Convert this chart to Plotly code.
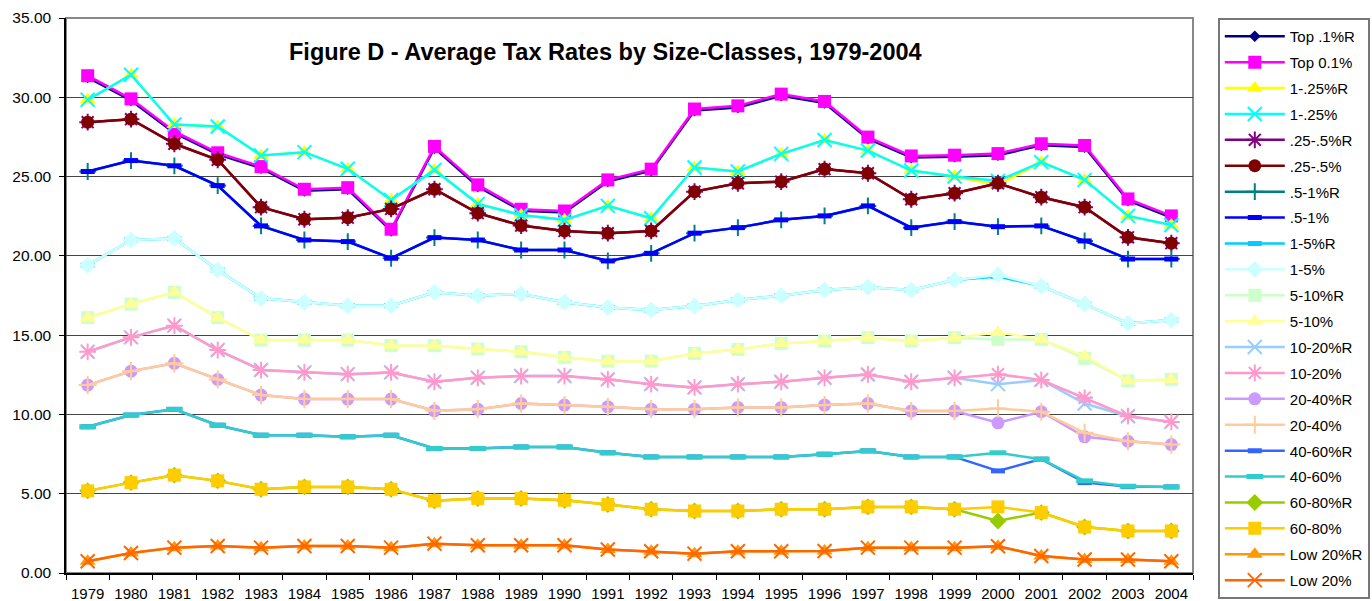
import plotly.graph_objects as go

years = [str(y) for y in range(1979, 2005)]

top01R = [31.26, 29.8, 27.75, 26.4, 25.53, 24.1, 24.2, 21.58, 26.8, 24.38, 22.84, 22.73, 24.69, 25.37, 29.16, 29.36, 30.1, 29.64, 27.39, 26.2, 26.25, 26.35, 26.97, 26.86, 23.49, 22.42]
top01 = [31.36, 29.9, 27.85, 26.5, 25.63, 24.2, 24.3, 21.68, 26.9, 24.48, 22.94, 22.83, 24.79, 25.47, 29.26, 29.46, 30.2, 29.74, 27.49, 26.3, 26.35, 26.45, 27.07, 26.96, 23.59, 22.52]
p1_25R = [29.84, 31.42, 28.28, 28.16, 26.33, 26.54, 25.49, 23.52, 25.42, 23.28, 22.58, 22.27, 23.15, 22.37, 25.57, 25.32, 26.43, 27.31, 26.64, 25.38, 25.0, 24.47, 25.91, 24.79, 22.52, 21.95]
p1_25 = [29.84, 31.42, 28.28, 28.16, 26.33, 26.54, 25.49, 23.52, 25.42, 23.28, 22.58, 22.27, 23.15, 22.37, 25.57, 25.32, 26.43, 27.31, 26.64, 25.38, 25.0, 24.73, 25.91, 24.79, 22.52, 21.95]
p25_5R = [28.43, 28.62, 27.07, 26.06, 23.07, 22.31, 22.41, 22.96, 24.2, 22.69, 21.91, 21.57, 21.43, 21.57, 24.05, 24.58, 24.68, 25.47, 25.21, 23.57, 23.95, 24.58, 23.7, 23.07, 21.17, 20.8]
p25_5 = [28.43, 28.62, 27.07, 26.06, 23.07, 22.31, 22.41, 22.96, 24.2, 22.69, 21.91, 21.57, 21.43, 21.57, 24.05, 24.58, 24.68, 25.47, 25.21, 23.57, 23.95, 24.58, 23.7, 23.07, 21.17, 20.8]
p5_1R = [25.32, 26.01, 25.68, 24.43, 21.89, 21.0, 20.9, 19.85, 21.15, 21.0, 20.37, 20.37, 19.68, 20.16, 21.43, 21.78, 22.27, 22.52, 23.15, 21.78, 22.16, 21.84, 21.89, 20.94, 19.8, 19.8]
p5_1 = [25.32, 26.01, 25.68, 24.43, 21.89, 21.0, 20.9, 19.85, 21.15, 21.0, 20.37, 20.37, 19.68, 20.16, 21.43, 21.78, 22.27, 22.52, 23.15, 21.78, 22.16, 21.84, 21.89, 20.94, 19.8, 19.8]
p1_5R = [19.41, 21.0, 21.1, 19.1, 17.32, 17.07, 16.86, 16.86, 17.7, 17.49, 17.6, 17.07, 16.75, 16.58, 16.84, 17.22, 17.49, 17.85, 18.02, 17.85, 18.48, 18.7, 18.1, 16.96, 15.74, 15.95]
p1_5 = [19.41, 21.0, 21.1, 19.1, 17.32, 17.07, 16.86, 16.86, 17.7, 17.49, 17.6, 17.07, 16.75, 16.58, 16.84, 17.22, 17.49, 17.85, 18.02, 17.85, 18.48, 18.8, 18.1, 16.96, 15.74, 15.95]
p5_10R = [16.1, 16.96, 17.7, 16.1, 14.69, 14.69, 14.69, 14.35, 14.33, 14.12, 13.95, 13.6, 13.36, 13.36, 13.85, 14.1, 14.48, 14.63, 14.84, 14.63, 14.84, 14.73, 14.73, 13.54, 12.12, 12.21]
p5_10 = [16.1, 16.96, 17.7, 16.1, 14.69, 14.69, 14.69, 14.35, 14.33, 14.12, 13.95, 13.6, 13.36, 13.36, 13.85, 14.1, 14.48, 14.63, 14.84, 14.63, 14.84, 15.18, 14.73, 13.68, 12.12, 12.21]
p10_20R = [13.95, 14.86, 15.6, 14.06, 12.8, 12.65, 12.54, 12.65, 12.06, 12.31, 12.42, 12.42, 12.21, 11.91, 11.7, 11.91, 12.06, 12.31, 12.52, 12.06, 12.31, 11.91, 12.17, 10.69, 9.89, 9.53]
p10_20 = [13.95, 14.86, 15.6, 14.06, 12.8, 12.65, 12.54, 12.65, 12.06, 12.31, 12.42, 12.42, 12.21, 11.91, 11.7, 11.91, 12.06, 12.31, 12.52, 12.06, 12.31, 12.54, 12.17, 11.05, 9.89, 9.53]
p20_40R = [11.85, 12.73, 13.22, 12.21, 11.22, 10.97, 10.97, 10.97, 10.23, 10.33, 10.69, 10.59, 10.48, 10.33, 10.33, 10.44, 10.44, 10.59, 10.69, 10.21, 10.21, 9.47, 10.17, 8.59, 8.31, 8.1]
p20_40 = [11.85, 12.73, 13.22, 12.21, 11.22, 10.97, 10.97, 10.97, 10.23, 10.33, 10.69, 10.59, 10.48, 10.33, 10.33, 10.44, 10.44, 10.59, 10.69, 10.21, 10.21, 10.38, 10.17, 8.84, 8.31, 8.1]
p40_60R = [9.22, 9.96, 10.32, 9.32, 8.69, 8.69, 8.59, 8.69, 7.85, 7.85, 7.95, 7.95, 7.58, 7.32, 7.32, 7.32, 7.32, 7.49, 7.7, 7.32, 7.32, 6.44, 7.18, 5.7, 5.45, 5.43]
p40_60 = [9.22, 9.96, 10.32, 9.32, 8.69, 8.69, 8.59, 8.69, 7.85, 7.85, 7.95, 7.95, 7.58, 7.32, 7.32, 7.32, 7.32, 7.49, 7.7, 7.32, 7.32, 7.58, 7.18, 5.81, 5.47, 5.43]
p60_80R = [5.18, 5.7, 6.17, 5.81, 5.28, 5.43, 5.43, 5.28, 4.55, 4.7, 4.7, 4.59, 4.32, 4.02, 3.91, 3.91, 4.02, 4.02, 4.17, 4.17, 4.02, 3.28, 3.81, 2.9, 2.65, 2.65]
p60_80 = [5.18, 5.7, 6.17, 5.81, 5.28, 5.43, 5.43, 5.28, 4.55, 4.7, 4.7, 4.59, 4.32, 4.02, 3.91, 3.91, 4.02, 4.02, 4.17, 4.17, 4.02, 4.17, 3.81, 2.9, 2.65, 2.65]
low20R = [0.74, 1.26, 1.6, 1.7, 1.6, 1.7, 1.7, 1.6, 1.85, 1.75, 1.75, 1.75, 1.48, 1.37, 1.22, 1.37, 1.37, 1.39, 1.6, 1.6, 1.6, 1.69, 1.07, 0.85, 0.85, 0.74]
low20 = [0.74, 1.26, 1.6, 1.7, 1.6, 1.7, 1.7, 1.6, 1.85, 1.75, 1.75, 1.75, 1.48, 1.37, 1.22, 1.37, 1.37, 1.39, 1.6, 1.6, 1.6, 1.69, 1.07, 0.85, 0.85, 0.74]

series = [
    ("Top .1%R", top01R, "#000080", "diamond", 9),
    ("Top 0.1%", top01, "#FF00FF", "square", 13),
    ("1-.25%R", p1_25R, "#FFFF00", "triangle-up", 14),
    ("1-.25%", p1_25, "#00FFFF", "x-thin-open", 14),
    (".25-.5%R", p25_5R, "#800080", "asterisk-open", 14),
    (".25-.5%", p25_5, "#800000", "circle", 13),
    (".5-1%R", p5_1R, "#008080", "cross-thin-open", 12),
    (".5-1%", p5_1, "#0000FF", "line-ew-open", 10),
    ("1-5%R", p1_5R, "#00CCFF", "line-ew-open", 10),
    ("1-5%", p1_5, "#CCFFFF", "diamond", 13),
    ("5-10%R", p5_10R, "#CCFFCC", "square", 13),
    ("5-10%", p5_10, "#FFFF99", "triangle-up", 14),
    ("10-20%R", p10_20R, "#99CCFF", "x-thin-open", 14),
    ("10-20%", p10_20, "#FF99CC", "asterisk-open", 14),
    ("20-40%R", p20_40R, "#CC99FF", "circle", 13),
    ("20-40%", p20_40, "#FFCC99", "cross-thin-open", 13),
    ("40-60%R", p40_60R, "#3366FF", "line-ew-open", 10),
    ("40-60%", p40_60, "#33CCCC", "line-ew-open", 12),
    ("60-80%R", p60_80R, "#99CC00", "diamond", 13),
    ("60-80%", p60_80, "#FFCC00", "square", 13),
    ("Low 20%R", low20R, "#FF9900", "triangle-up", 14),
    ("Low 20%", low20, "#FF6600", "x-thin-open", 14),
]

fig = go.Figure()
for i, (name, vals, color, sym, size) in enumerate(series):
    open_sym = sym.endswith("open")
    lw = 5 if sym.startswith("line-ew") else (2 if open_sym else 0)
    fig.add_trace(go.Scatter(
        x=years, y=vals, name=name, mode="lines+markers",
        legendgroup="g%d" % i,
        line=dict(color=color, width=2.5),
        marker=dict(symbol=sym, size=size, color=color,
                    line=dict(color=color, width=lw)),
    ))

fig.add_shape(type="rect", xref="paper", yref="paper", x0=0, x1=1, y0=0, y1=1,
              line=dict(color="#888888", width=2), layer="below")

fig.add_annotation(text="<b>Figure D - Average Tax Rates by Size-Classes, 1979-2004</b>",
                   xref="paper", yref="paper", x=0.479, y=0.939, showarrow=False,
                   xanchor="center", yanchor="middle",
                   font=dict(family="Arial, Liberation Sans", size=23.5, color="black"))

fig.update_layout(
    width=1372, height=601,
    margin=dict(l=66, r=179, t=18, b=28, autoexpand=False),
    paper_bgcolor="white", plot_bgcolor="white",
    font=dict(family="Arial, Liberation Sans", size=13, color="black"),
    showlegend=True,
    legend=dict(x=1.022, y=1.0, xanchor="left", yanchor="top",
                bordercolor="#777777", borderwidth=2, bgcolor="white",
                font=dict(size=15), itemwidth=60, tracegroupgap=3.4,
                traceorder="grouped", maxheight=700),
    xaxis=dict(type="category", range=[-0.5, 25.5], showgrid=False,
               showline=True, linecolor="black", linewidth=1.5,
               ticks="outside", tickson="boundaries", ticklen=5, tickcolor="black",
               tickfont=dict(size=15), ticklabelstandoff=6),
    yaxis=dict(range=[0, 35], dtick=5, tickformat=".2f",
               showgrid=True, gridcolor="#444444", gridwidth=1,
               showline=True, linecolor="black", linewidth=1.5,
               ticks="outside", ticklen=5, tickcolor="black",
               tickfont=dict(size=15.5), ticklabelstandoff=5, zeroline=False),
)

fig.write_html("out.html", config={"displayModeBar": False},
               post_script="document.body.style.margin='0';")
